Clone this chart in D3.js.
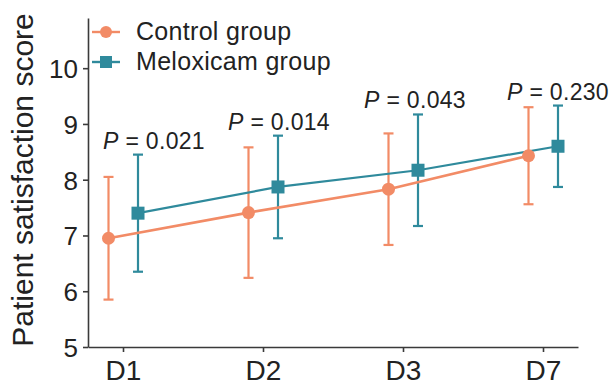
<!DOCTYPE html>
<meta charset="utf-8">
<head>
    <style>
        body{
            margin: 0;
            background-color: #ffffff;
        }
        svg text{
            font-family: "Liberation Sans", Arial, sans-serif;
            fill: #222;
        }
        .axis path, .axis line{
            stroke: #3a3a3a;
            stroke-width: 1.6;
        }
    </style>
</head>
<body>
<div id="chart"></div>

<script src="https://cdn.jsdelivr.net/npm/d3@7"></script>
<script>

    // data
    const days = ["D1", "D2", "D3", "D7"];
    const controlMean = [6.95, 7.41, 7.83, 8.43];
    const controlSD = [1.10, 1.17, 1.00, 0.87];
    const meloxMean = [7.40, 7.87, 8.17, 8.60];
    const meloxSD = [1.05, 0.92, 1.00, 0.73];
    const pValues = ["0.021", "0.014", "0.043", "0.230"];
    const yTicks = [5, 6, 7, 8, 9, 10];
    const seriesNames = ["Control group", "Meloxicam group"];

    const orange = "#f28b66",
        teal = "#2f8a9c";

    const W = 614, H = 386;

    const svg = d3.select("#chart")
        .append("svg")
        .attr("width", W)
        .attr("height", H);

    // scales
    const x = d3.scalePoint()
        .domain(days)
        .range([88, 578])
        .padding(0.25);

    const y = d3.scaleLinear()
        .domain([5, 10.9])
        .range([347, 18]);

    const offC = -14.5, offM = 15;

    // axes
    const yAxis = svg.append("g")
        .attr("class", "axis")
        .attr("transform", "translate(88,0)")
        .call(d3.axisLeft(y).tickValues(yTicks).tickSize(5).tickSizeOuter(0).tickPadding(5).tickFormat(d3.format("d")));
    yAxis.selectAll("text")
        .style("font-size", "26px")
        .attr("dy", "0.36em");

    const xAxis = svg.append("g")
        .attr("class", "axis")
        .attr("transform", "translate(0,347)")
        .call(d3.axisBottom(x).tickSize(5).tickSizeOuter(0).tickPadding(8));
    xAxis.selectAll("text")
        .style("font-size", "28px")
        .attr("dy", "0.71em");

    // y axis title
    svg.append("text")
        .attr("transform", "rotate(-90)")
        .attr("x", -180)
        .attr("y", 33)
        .attr("text-anchor", "middle")
        .style("font-size", "30px")
        .text("Patient satisfaction score");

    const series = [
        {mean: controlMean, sd: controlSD, off: offC, color: orange, width: 2.6},
        {mean: meloxMean, sd: meloxSD, off: offM, color: teal, width: 2.2}
    ];

    // error bars
    series.forEach(function(s) {
        const g = svg.append("g");
        days.forEach(function(d, i) {
            const cx = x(d) + s.off;
            const top = y(s.mean[i] + s.sd[i]),
                bot = y(s.mean[i] - s.sd[i]);
            g.append("line")
                .attr("x1", cx).attr("x2", cx)
                .attr("y1", top).attr("y2", bot)
                .attr("stroke", s.color).attr("stroke-width", 2.2);
            [top, bot].forEach(function(yy) {
                g.append("line")
                    .attr("x1", cx - 5).attr("x2", cx + 5)
                    .attr("y1", yy).attr("y2", yy)
                    .attr("stroke", s.color).attr("stroke-width", 2.2);
            });
        });
    });

    // lines
    series.forEach(function(s) {
        svg.append("path")
            .datum(s.mean)
            .attr("fill", "none")
            .attr("stroke", s.color)
            .attr("stroke-width", s.width)
            .attr("d", d3.line()
                .x(function(d, i) { return x(days[i]) + s.off; })
                .y(function(d) { return y(d); }));
    });

    // markers
    svg.append("g")
        .selectAll("circle")
        .data(controlMean)
        .join("circle")
        .attr("cx", function(d, i) { return x(days[i]) + offC; })
        .attr("cy", function(d) { return y(d); })
        .attr("r", 6.5)
        .attr("fill", orange);

    svg.append("g")
        .selectAll("rect")
        .data(meloxMean)
        .join("rect")
        .attr("x", function(d, i) { return x(days[i]) + offM - 6.5; })
        .attr("y", function(d) { return y(d) - 6.5; })
        .attr("width", 13)
        .attr("height", 13)
        .attr("fill", teal);

    // p-value labels, sitting just above the meloxicam error bar
    const labelShift = [16, 1, -3, 0];
    pValues.forEach(function(p, i) {
        const t = svg.append("text")
            .attr("x", x(days[i]) + offM + labelShift[i])
            .attr("y", y(meloxMean[i] + meloxSD[i]) - 6)
            .attr("text-anchor", "middle")
            .style("font-size", "23px")
            .style("letter-spacing", "0.3px");
        t.append("tspan").style("font-style", "italic").text("P");
        t.append("tspan").text(" = " + p);
    });

    // legend
    const legend = svg.append("g");
    seriesNames.forEach(function(name, i) {
        const ly = 32 + i * 30;
        const col = i === 0 ? orange : teal;
        legend.append("line")
            .attr("x1", 92).attr("x2", 120)
            .attr("y1", ly).attr("y2", ly)
            .attr("stroke", col).attr("stroke-width", 2.4);
        if (i === 0) {
            legend.append("circle")
                .attr("cx", 106).attr("cy", ly).attr("r", 6)
                .attr("fill", col);
        } else {
            legend.append("rect")
                .attr("x", 100).attr("y", ly - 6)
                .attr("width", 12).attr("height", 12)
                .attr("fill", col);
        }
        legend.append("text")
            .attr("x", 136)
            .attr("y", ly + 8)
            .style("font-size", "25px")
            .style("letter-spacing", "0.3px")
            .text(name);
    });

</script>
</body>
